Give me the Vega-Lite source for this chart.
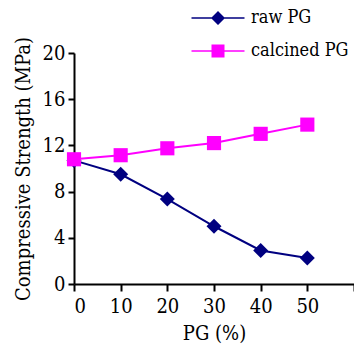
{
  "$schema": "https://vega.github.io/schema/vega-lite/v6.json",
  "width": 280,
  "height": 231,
  "autosize": "none",
  "padding": {"left": 74, "top": 53, "right": 0, "bottom": 61},
  "background": "white",
  "config": {
    "view": {"stroke": null},
    "font": "DejaVu Serif Condensed, DejaVu Serif",
    "axis": {
      "grid": false,
      "domainColor": "black",
      "domainWidth": 2,
      "tickColor": "black",
      "tickWidth": 2,
      "labelFont": "DejaVu Serif Condensed, DejaVu Serif",
      "labelFontSize": 20,
      "labelColor": "black",
      "titleFont": "DejaVu Serif Condensed, DejaVu Serif",
      "titleFontSize": 20,
      "titleFontWeight": "normal",
      "titleColor": "black"
    },
    "legend": {
      "labelFont": "DejaVu Serif Condensed, DejaVu Serif",
      "labelFontSize": 18,
      "labelColor": "black"
    }
  },
  "data": {
    "values": [
      {"pg": 0, "strength": 10.7, "series": "raw PG"},
      {"pg": 10, "strength": 9.5, "series": "raw PG"},
      {"pg": 20, "strength": 7.35, "series": "raw PG"},
      {"pg": 30, "strength": 5.0, "series": "raw PG"},
      {"pg": 40, "strength": 2.9, "series": "raw PG"},
      {"pg": 50, "strength": 2.25, "series": "raw PG"},
      {"pg": 0, "strength": 10.8, "series": "calcined PG"},
      {"pg": 10, "strength": 11.15, "series": "calcined PG"},
      {"pg": 20, "strength": 11.75, "series": "calcined PG"},
      {"pg": 30, "strength": 12.2, "series": "calcined PG"},
      {"pg": 40, "strength": 13.0, "series": "calcined PG"},
      {"pg": 50, "strength": 13.8, "series": "calcined PG"}
    ]
  },
  "encoding": {
    "x": {
      "field": "pg",
      "type": "quantitative",
      "scale": {"domain": [0, 60], "nice": false, "zero": false},
      "axis": {
        "title": "PG (%)",
        "values": [0, 10, 20, 30, 40, 50, 60],
        "labelExpr": "datum.value == 60 ? '' : datum.label",
        "tickSize": 7,
        "labelPadding": 5,
        "titlePadding": 7
      }
    },
    "y": {
      "field": "strength",
      "type": "quantitative",
      "scale": {"domain": [0, 20], "nice": false},
      "axis": {
        "title": "Compressive Strength (MPa)",
        "values": [0, 4, 8, 12, 16, 20],
        "tickSize": 6,
        "labelPadding": 3,
        "titlePadding": 9
      }
    },
    "color": {
      "field": "series",
      "type": "nominal",
      "scale": {"domain": ["raw PG", "calcined PG"], "range": ["#000080", "#FF00FF"]},
      "legend": {
        "title": null,
        "orient": "none",
        "legendX": 134,
        "legendY": -45,
        "padding": 0,
        "symbolSize": 400,
        "symbolStrokeWidth": 0,
        "symbolOpacity": 1,
        "labelOffset": 23,
        "rowPadding": 14,
        "encode": {
          "symbols": {
            "update": {
              "shape": {"signal": "datum.value === 'raw PG' ? 'M-2.65,-0.08H2.65V0.08H-2.65Z M0,-0.7L0.7,0L0,0.7L-0.7,0Z' : 'M-2.65,-0.08H2.65V0.08H-2.65Z M-0.65,-0.65H0.65V0.65H-0.65Z'"}
            }
          }
        }
      }
    }
  },
  "layer": [
    {
      "mark": {"type": "line", "strokeWidth": 2}
    },
    {
      "transform": [{"filter": "datum.series === 'raw PG'"}],
      "mark": {"type": "point", "filled": true, "opacity": 1, "shape": "diamond", "size": 225}
    },
    {
      "transform": [{"filter": "datum.series === 'calcined PG'"}],
      "mark": {"type": "point", "filled": true, "opacity": 1, "shape": "square", "size": 200}
    }
  ]
}
